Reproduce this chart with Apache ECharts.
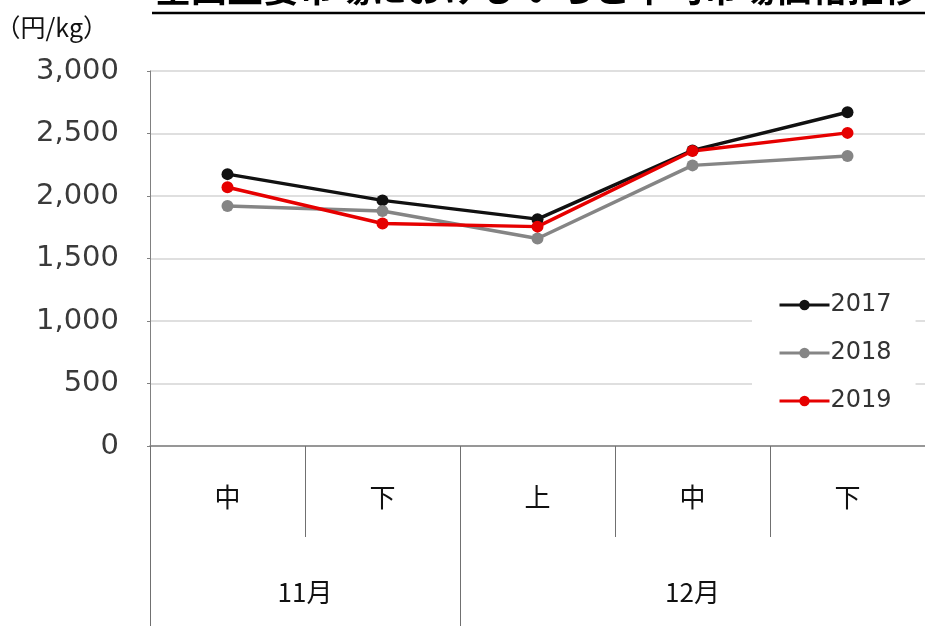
<!DOCTYPE html>
<html>
<head>
<meta charset="utf-8">
<script src="https://cdn.jsdelivr.net/npm/echarts@6/dist/echarts.min.js"></script>
<style>html,body{margin:0;padding:0;background:#fff;}#c{width:925px;height:626px;}</style>
</head>
<body>
<div id="c"></div>
<script>
var titleText = '全国主要市場における いちご平均市場価格推移';
var unitLabel = '（円/kg）';
var periods = ['中', '下', '上', '中', '下'];
var months = ['11月', '12月'];
var monthCenters = [1, 3.5];
var monthBounds = [0, 2, 5];
var years = ['2017', '2018', '2019'];
var v2017 = [2175, 1965, 1815, 2365, 2670];
var v2018 = [1920, 1880, 1660, 2245, 2320];
var v2019 = [2070, 1780, 1755, 2360, 2505];
var colors = ['#111111', '#858585', '#e60000'];

var chart = echarts.init(document.getElementById('c'));
var font = 'DejaVu Sans';
var cjk = '"Noto Sans CJK JP"';
function mk(name, data, color) {
  return {
    name: name, type: 'line', data: data, xAxisIndex: 0,
    symbol: 'circle', symbolSize: 12,
    lineStyle: { color: color, width: 3.5 },
    itemStyle: { color: color },
    z: 3
  };
}
chart.setOption({
  animation: false,
  title: {
    text: titleText, left: 150, top: -35,
    textStyle: { fontSize: 36, fontWeight: 'bold', color: '#000', fontFamily: cjk }
  },
  graphic: [{
    type: 'line', shape: { x1: 152, y1: 13, x2: 925, y2: 13 },
    style: { stroke: '#000', lineWidth: 2.5 }
  }],
  grid: { left: 150, right: 0, top: 71, bottom: 180, containLabel: false, outerBoundsMode: 'none' },
  legend: {
    orient: 'vertical', left: 752, top: 287,
    data: years, itemWidth: 50, itemHeight: 13, itemGap: 24,
    backgroundColor: '#fff', padding: [6, 24, 6, 26],
    lineStyle: { width: 3 },
    textStyle: { fontSize: 24, color: '#333', fontFamily: font, padding: [0, 0, 0, -4] }
  },
  xAxis: [{
    type: 'category', data: periods, boundaryGap: true, position: 'bottom',
    axisLine: { lineStyle: { color: '#808080', width: 1.5 } },
    axisTick: { show: true, interval: 0, length: 91, lineStyle: { color: '#707070' } },
    axisLabel: { interval: 0, fontSize: 26, color: '#111', margin: 38, fontFamily: cjk }
  }, {
    type: 'value', min: 0, max: 5, position: 'bottom',
    axisLine: { show: false }, splitLine: { show: false },
    axisTick: { show: true, customValues: monthBounds, length: 180, lineStyle: { color: '#707070' } },
    axisLabel: {
      customValues: monthCenters, fontSize: 26, color: '#111', margin: 133, fontFamily: cjk,
      formatter: function (v) { return months[monthCenters.indexOf(v)]; }
    }
  }],
  yAxis: {
    type: 'value', min: 0, max: 3000, interval: 500,
    name: unitLabel, nameLocation: 'end', nameGap: 44,
    nameTextStyle: { fontSize: 25, color: '#111', fontFamily: cjk, align: 'right', verticalAlign: 'middle', padding: [0, 42, 0, 0] },
    axisLine: { show: true, lineStyle: { color: '#808080' } },
    axisTick: { show: true, length: 3, lineStyle: { color: '#808080' } },
    splitLine: { lineStyle: { color: '#d4d4d4', width: 1.5 } },
    axisLabel: {
      fontSize: 29, color: '#3a3a3a', margin: 31, fontFamily: font,
      formatter: function (v) { return v.toLocaleString('en-US'); }
    }
  },
  series: [mk(years[0], v2017, colors[0]), mk(years[1], v2018, colors[1]), mk(years[2], v2019, colors[2])]
});
</script>
</body>
</html>
